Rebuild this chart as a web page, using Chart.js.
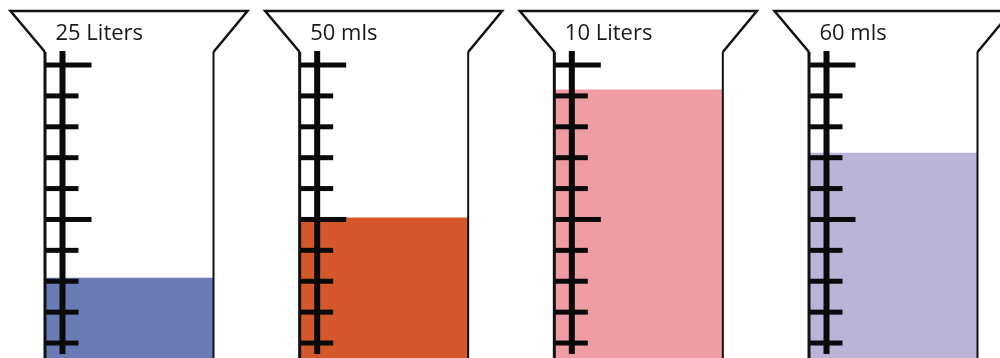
<!DOCTYPE html>
<html>
<head>
<meta charset="utf-8">
<script src="https://cdn.jsdelivr.net/npm/chart.js@4/dist/chart.umd.min.js"></script>
<style>
  html, body { margin: 0; padding: 0; background: #fff; }
  #wrap { width: 1000px; height: 358px; }
</style>
</head>
<body>
<div id="wrap"><canvas id="cylinders"></canvas></div>
<script>
// cylinder labels and fill level, in graduation marks
let labels = ["25 Liters", "50 mls", "10 Liters", "60 mls"];
let levels = [3.1, 5.05, 9.2, 7.15];
let liquidColors = ["#6a7cb6", "#d5582a", "#f09ca3", "#b9b4d8"];

// graduation marks on every cylinder, long ones every five
let gradTicks = [1, 2, 3, 4, 5, 6, 7, 8, 9, 10];
let longTicks = [5, 10];

let cylinderPlugin = {
    id: 'cylinders',
    afterDatasetsDraw(chart) {
        let ctx = chart.ctx;
        let yScale = chart.scales.y;
        let bars = chart.getDatasetMeta(0).data;
        let wallTop = 52, rimY = 11, flare = 34;

        ctx.save();
        ctx.strokeStyle = "#111";
        ctx.lineCap = "butt";
        ctx.lineJoin = "miter";

        bars.forEach((bar, i) => {
            let left = bar.x - bar.width / 2;
            let right = bar.x + bar.width / 2;

            // graduations
            ctx.fillStyle = "#0a0a0a";
            let top = yScale.getPixelForValue(gradTicks[gradTicks.length - 1]);
            let bottom = yScale.getPixelForValue(gradTicks[0]);
            ctx.fillRect(left + 15, top - 14, 6, bottom - top + 25);
            gradTicks.forEach(t => {
                let ty = yScale.getPixelForValue(t);
                let len = longTicks.includes(t) ? 47 : 34;
                ctx.fillRect(left, ty - 2.5, len, 5);
            });

            // walls
            ctx.lineWidth = 3;
            ctx.beginPath();
            ctx.moveTo(left + 0.5, wallTop);
            ctx.lineTo(left + 0.5, chart.height + 5);
            ctx.stroke();
            ctx.lineWidth = 2;
            ctx.beginPath();
            ctx.moveTo(right, wallTop);
            ctx.lineTo(right, chart.height + 5);
            ctx.stroke();

            // funnel rim
            ctx.lineWidth = 2.5;
            ctx.beginPath();
            ctx.moveTo(left + 0.5, wallTop);
            ctx.lineTo(left - flare, rimY);
            ctx.lineTo(right + flare, rimY);
            ctx.lineTo(right, wallTop);
            ctx.stroke();

            // label
            ctx.fillStyle = "#1a1a1a";
            ctx.font = "22px 'Open Sans'";
            ctx.textAlign = "left";
            ctx.textBaseline = "alphabetic";
            ctx.fillText(labels[i], left + 11, 40);
        });
        ctx.restore();
    }
};

let chart = new Chart(document.getElementById("cylinders"), {
    type: 'bar',
    data: {
        labels: labels,
        datasets: [{
            data: levels,
            backgroundColor: liquidColors,
            borderWidth: 0,
            barThickness: 169,
            clip: false
        }]
    },
    options: {
        responsive: true,
        maintainAspectRatio: false,
        animation: false,
        layout: { padding: { left: 129, right: 107, top: 0, bottom: 0 } },
        scales: {
            x: { display: false, offset: false },
            y: { display: false, min: 0.515, max: 12.105 }
        },
        plugins: {
            legend: { display: false },
            tooltip: { enabled: false }
        }
    },
    plugins: [cylinderPlugin]
});
</script>
</body>
</html>
